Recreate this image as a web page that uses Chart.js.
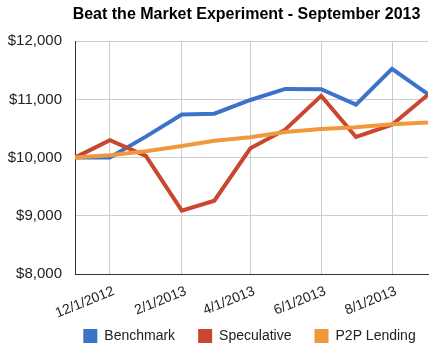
<!DOCTYPE html>
<html>
<head>
<meta charset="utf-8">
<script src="https://cdn.jsdelivr.net/npm/chart.js@4.4.0/dist/chart.umd.min.js"></script>
<style>
  html, body { margin: 0; padding: 0; background: #fff; }
</style>
</head>
<body>
<canvas id="lineChart" width="447" height="350"></canvas>
<script>
// Werte
const months = ['11/1/2012', '12/1/2012', '1/1/2013', '2/1/2013', '3/1/2013', '4/1/2013',
                '5/1/2013', '6/1/2013', '7/1/2013', '8/1/2013', '9/1/2013'];
const benchmark = [10000, 10000, 10360, 10740, 10755, 10990, 11180, 11175, 10910, 11525, 11090];
const speculative = [10000, 10300, 10030, 9090, 9260, 10160, 10480, 11060, 10355, 10565, 11080];
const p2pLending = [10000, 10040, 10110, 10200, 10290, 10350, 10440, 10490, 10520, 10575, 10605];
const tickLabels = ['12/1/2012', '2/1/2013', '4/1/2013', '6/1/2013', '8/1/2013'];
const yTicks = [8000, 9000, 10000, 11000, 12000];

// Tage seit dem ersten Monat, damit die Abstaende wie bei einer Datumsachse sind
function dayOf(label) {
  const [m, d, y] = label.split('/').map(Number);
  const [m0, d0, y0] = months[0].split('/').map(Number);
  return (Date.UTC(y, m - 1, d) - Date.UTC(y0, m0 - 1, d0)) / 86400000;
}

function points(values) {
  return months.map((m, i) => ({ x: dayOf(m), y: values[i] }));
}

const font = 'Liberation Sans, Arial, sans-serif';

// Titel und Legende ueber der Zeichenflaeche zentrieren, x-Beschriftung nicht abschneiden
const adjustBlocks = {
  id: 'adjustBlocks',
  afterLayout(chart) {
    const area = chart.chartArea;
    const mid = (area.left + area.right) / 2;
    chart.titleBlock.left = mid - 5 - 200;
    chart.titleBlock.right = mid - 5 + 200;
    chart.legend.left = mid - 2 - 215;
    chart.legend.right = mid - 2 + 215;
    chart.legend.top += 3;
    chart.legend.bottom += 3;
    chart.scales.x.bottom = chart.height;
  }
};

const lineChart = document.querySelector('#lineChart');

new Chart(lineChart, {
  type: 'line',
  data: {
    datasets: [{
      label: 'Benchmark',
      data: points(benchmark),
      borderColor: '#3b73c9',
      backgroundColor: '#3b73c9',
      order: 3
    }, {
      label: 'Speculative',
      data: points(speculative),
      borderColor: '#c9472f',
      backgroundColor: '#c9472f',
      order: 2
    }, {
      label: 'P2P Lending',
      data: points(p2pLending),
      borderColor: '#f0993c',
      backgroundColor: '#f0993c',
      order: 1
    }]
  },
  options: {
    responsive: false,
    animation: false,
    devicePixelRatio: 1,
    layout: { padding: { left: 0, right: 19, top: 0, bottom: 0 } },
    elements: {
      line: { borderWidth: 4, tension: 0, fill: false, borderJoinStyle: 'miter' },
      point: { radius: 0, hoverRadius: 0 }
    },
    plugins: {
      title: {
        display: true,
        text: 'Beat the Market Experiment - September 2013',
        color: '#000',
        font: { family: font, size: 16, weight: 'bold' },
        padding: { top: 5, bottom: 17 }
      },
      legend: {
        position: 'bottom',
        labels: {
          boxWidth: 14,
          boxHeight: 14,
          padding: 23,
          color: '#222',
          font: { family: font, size: 14 },
          sort: (a, b) => a.datasetIndex - b.datasetIndex,
          generateLabels(chart) {
            return Chart.defaults.plugins.legend.labels.generateLabels(chart)
              .map(item => ({ ...item, lineWidth: 0 }));
          }
        }
      },
      tooltip: { enabled: false }
    },
    scales: {
      x: {
        type: 'linear',
        min: 0,
        max: dayOf(months[months.length - 1]),
        afterBuildTicks: (scale) => {
          scale.ticks = tickLabels.map(t => ({ value: dayOf(t) }));
        },
        afterFit: (scale) => { scale.height = 29; },
        ticks: {
          autoSkip: false,
          minRotation: 22,
          maxRotation: 22,
          padding: 9,
          labelOffset: 4,
          color: '#222',
          font: { family: font, size: 14 },
          callback: (value) => tickLabels.find(t => dayOf(t) === value)
        },
        grid: { color: '#cccccc', drawTicks: false },
        border: { color: '#333', width: 1 }
      },
      y: {
        min: 8000,
        max: 12000,
        afterBuildTicks: (scale) => {
          scale.ticks = yTicks.map(v => ({ value: v }));
        },
        afterFit: (scale) => { scale.width = 75; },
        ticks: {
          padding: 13,
          color: '#222',
          font: { family: font, size: 15 },
          callback: (value) => '$' + value.toLocaleString('en-US')
        },
        grid: {
          color: (ctx) => ctx.tick && ctx.tick.value === yTicks[0] ? 'rgba(0,0,0,0)' : '#cccccc',
          drawTicks: false
        },
        border: { color: '#333', width: 1 }
      }
    }
  },
  plugins: [adjustBlocks]
});
</script>
</body>
</html>
